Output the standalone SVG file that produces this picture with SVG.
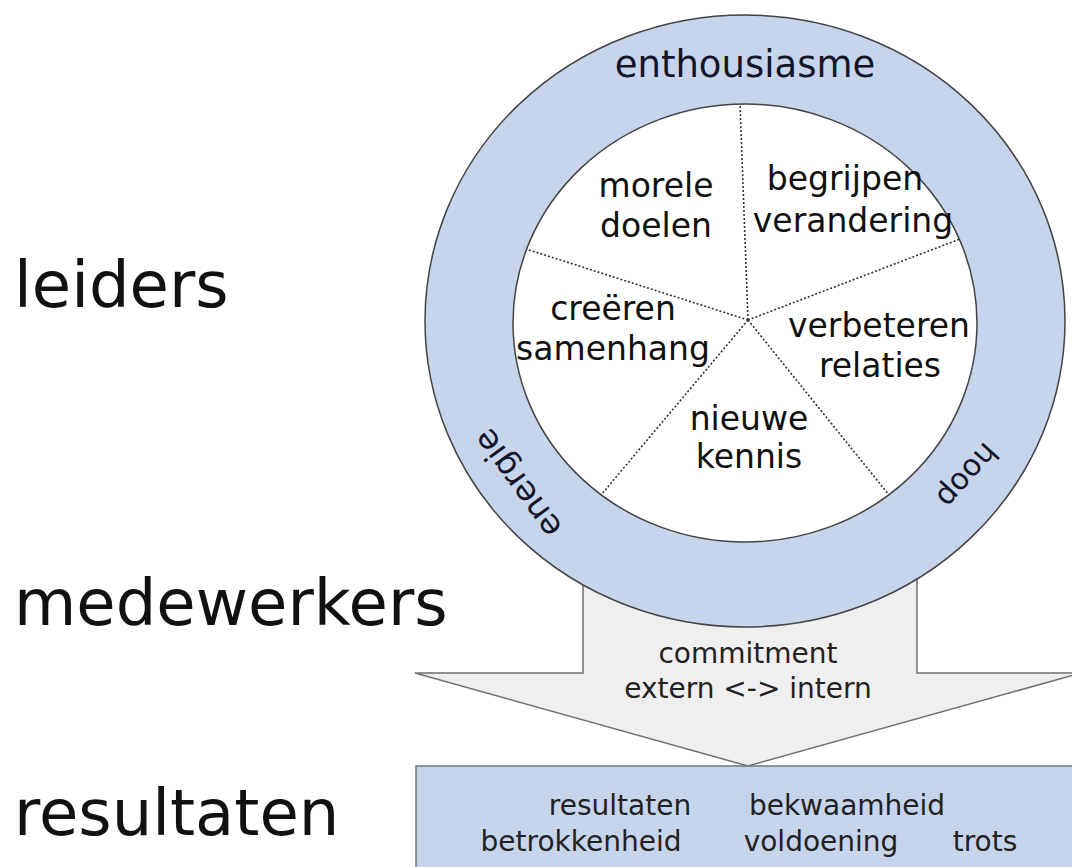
<svg xmlns="http://www.w3.org/2000/svg" width="1072" height="867" viewBox="0 0 1072 867">
  <style>
    text { font-family: "DejaVu Sans", Verdana, sans-serif; fill: #111; }
    .side { font-size: 64px; }
    .seg { font-size: 33px; text-anchor: middle; }
    .ring { font-size: 37px; text-anchor: middle; fill: #15152a; }
    .small { font-size: 28px; text-anchor: middle; fill: #222; }
    .spoke { stroke: #333; stroke-width: 1.6; stroke-dasharray: 2 2; fill: none; }
    .edge { stroke: #444; stroke-width: 1.5; }
  </style>

  <rect width="1072" height="867" fill="#ffffff"/>

  <!-- row labels -->
  <g id="labels">
    <text class="side" x="14" y="307">leiders</text>
    <text class="side" x="14" y="625">medewerkers</text>
    <text class="side" x="14" y="835">resultaten</text>
  </g>

  <!-- broad arrow from the wheel down to the results bar -->
  <g id="connectors">
    <polygon id="arrow" points="583,560 583,673 415,673 748,766 1081,673 917,673 917,560"
             fill="#efefef" stroke="#707070" stroke-width="1.5"/>
    <text class="small" x="748" y="663">commitment</text>
    <text class="small" x="748" y="698">extern &lt;-&gt; intern</text>
  </g>

  <!-- results bar -->
  <g id="results">
    <rect x="416" y="766" width="680" height="120" fill="#c6d5ec" stroke="#777" stroke-width="1.5"/>
    <text class="small" x="620" y="815">resultaten</text>
    <text class="small" x="847" y="815">bekwaamheid</text>
    <text class="small" x="581" y="851">betrokkenheid</text>
    <text class="small" x="821" y="851">voldoening</text>
    <text class="small" x="985" y="851">trots</text>
  </g>

  <!-- wheel: outer ring and inner disc -->
  <g id="wheel">
    <ellipse cx="745" cy="321" rx="320" ry="306" fill="#c6d5ec" class="edge"/>
    <ellipse cx="745" cy="323" rx="232" ry="219" fill="#ffffff" class="edge"/>
    <text class="ring" x="745" y="77">enthousiasme</text>
    <text class="ring" style="font-size:30px" transform="translate(968,476) rotate(132)" y="11">hoop</text>
    <text class="ring" style="font-size:33px" transform="translate(517,484) rotate(-126)" y="12">energie</text>
  </g>

  <!-- dotted dividers between the five segments -->
  <g id="spokes">
    <line class="spoke" x1="748" y1="320" x2="740" y2="104"/>
    <line class="spoke" x1="748" y1="320" x2="960" y2="239"/>
    <line class="spoke" x1="748" y1="320" x2="889" y2="495"/>
    <line class="spoke" x1="748" y1="320" x2="601" y2="495"/>
    <line class="spoke" x1="748" y1="320" x2="526" y2="249"/>
  </g>

  <g id="seg-doelen">
    <text class="seg" x="656" y="197">morele</text>
    <text class="seg" x="656" y="237">doelen</text>
  </g>
  <g id="seg-verandering">
    <text class="seg" x="845" y="190">begrijpen</text>
    <text class="seg" x="853" y="232">verandering</text>
  </g>
  <g id="seg-samenhang">
    <text class="seg" x="613" y="320">creëren</text>
    <text class="seg" x="613" y="360">samenhang</text>
  </g>
  <g id="seg-relaties">
    <text class="seg" x="879" y="337">verbeteren</text>
    <text class="seg" x="880" y="377">relaties</text>
  </g>
  <g id="seg-kennis">
    <text class="seg" x="749" y="430">nieuwe</text>
    <text class="seg" x="749" y="468">kennis</text>
  </g>
</svg>
